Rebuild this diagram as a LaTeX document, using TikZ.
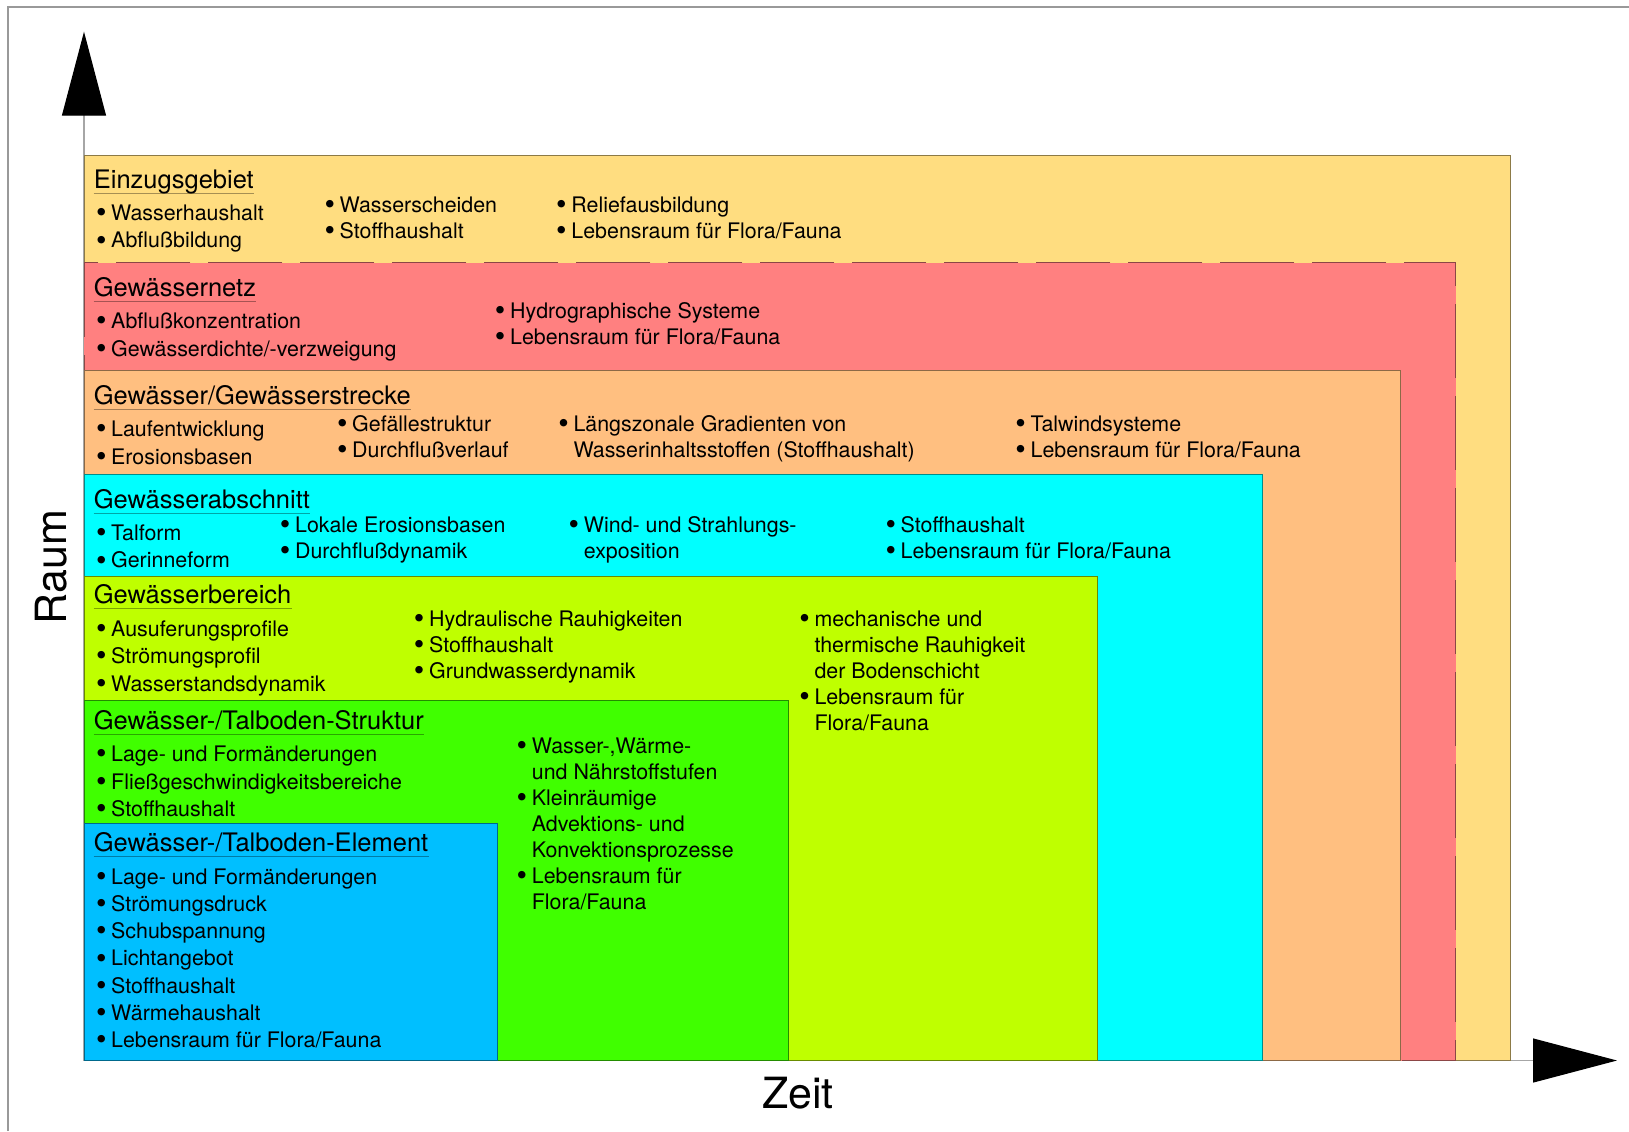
\documentclass[tikz,border=0pt]{standalone}
\usepackage{fontspec}
\setmainfont{TeX Gyre Heros}
\usetikzlibrary{arrows.meta}
\definecolor{gelbEinzug}{HTML}{FFDD80}
\definecolor{rotNetz}{HTML}{FF8080}
\definecolor{orangeStrecke}{HTML}{FFBF80}
\definecolor{cyanAbschnitt}{HTML}{00FFFF}
\definecolor{limeBereich}{HTML}{BFFF00}
\definecolor{gruenStruktur}{HTML}{40FF00}
\definecolor{blauElement}{HTML}{00BFFF}
\newcommand{\pkt}{\makebox[7.6pt][l]{\raisebox{-1.1pt}{\fontsize{15}{13}\selectfont\textbullet}}}
\newcommand{\einr}{\hspace*{7.6pt}}

\begin{document}
\begin{tikzpicture}[x=0.5pt,y=-0.5pt,
    zone/.style={draw=#1!55!black,fill=#1,line width=0.5pt},
    titel/.style={anchor=base west,inner sep=0pt,font=\fontsize{12.75}{15}\selectfont},
    ulinie/.style={draw=black,opacity=0.35,line width=0.5pt},
    spalte/.style={anchor=north west,inner sep=0pt,align=left,font=\fontsize{10.7}{13}\selectfont},
    spalteA/.style={spalte,font=\fontsize{10.7}{13.75}\selectfont},
    achse/.style={draw=black!35,line width=0.6pt,-{Triangle[length=42pt,width=22pt,color=black]}},
    achsname/.style={inner sep=0pt,font=\fontsize{21.5}{26}\selectfont},
    rahmen/.style={draw=black!40,line width=1pt}]
    \useasboundingbox (0,0) rectangle (1629,1131);
    \draw[rahmen] (7.5,1131) -- (7.5,7) -- (1629,7);

    \coordinate (ursprung) at (84,1060.5);
    \coordinate (raumspitze) at (84,31.7);
    \coordinate (zeitspitze) at (1617,1060.5);
    \draw[achse] (ursprung) -- (raumspitze);
    \draw[achse] (ursprung) -- (zeitspitze);

    \path[zone=gelbEinzug] (84,155.8) rectangle (1510.6,1060.5);
    \path[zone=rotNetz,dash pattern=on 37pt off 9pt] (84,262.8) rectangle (1455.5,1060.5);
    \path[zone=orangeStrecke] (84,370.9) rectangle (1400.4,1060.5);
    \path[zone=cyanAbschnitt] (84,474.8) rectangle (1262.3,1060.5);
    \path[zone=limeBereich] (84,576.6) rectangle (1097.1,1060.5);
    \path[zone=gruenStruktur] (84,700.2) rectangle (788.5,1060.5);
    \path[zone=blauElement] (84,823.8) rectangle (497.6,1060.5);

    \node[titel] (tEinzug) at (93.5,188.7) {Einzugsgebiet};
    \draw[ulinie] ([yshift=-2.5pt]tEinzug.base west) -- ([yshift=-2.5pt]tEinzug.base east);
    \node[spalteA] (einzugA) at (95.6,204.4) {\pkt Wasserhaushalt\\\pkt Abflußbildung};
    \node[spalte] (einzugB) at (324.1,196.1) {\pkt Wasserscheiden\\\pkt Stoffhaushalt};
    \node[spalte] (einzugC) at (555.8,196.1) {\pkt Reliefausbildung\\\pkt Lebensraum für Flora/Fauna};

    \node[titel] (tNetz) at (93.5,296.8) {Gewässernetz};
    \draw[ulinie] ([yshift=-2.5pt]tNetz.base west) -- ([yshift=-2.5pt]tNetz.base east);
    \node[spalteA] (netzA) at (95.6,312.5) {\pkt Abflußkonzentration\\\pkt Gewässerdichte/-verzweigung};
    \node[spalte] (netzB) at (494.5,302.1) {\pkt Hydrographische Systeme\\\pkt Lebensraum für Flora/Fauna};

    \node[titel] (tStrecke) at (93.5,404.8) {Gewässer/Gewässerstrecke};
    \draw[ulinie] ([yshift=-2.5pt]tStrecke.base west) -- ([yshift=-2.5pt]tStrecke.base east);
    \node[spalteA] (streckeA) at (95.6,420.5) {\pkt Laufentwicklung\\\pkt Erosionsbasen};
    \node[spalte] (streckeB) at (336.6,415.3) {\pkt Gefällestruktur\\\pkt Durchflußverlauf};
    \node[spalte] (streckeC) at (557.9,415.3) {\pkt Längszonale Gradienten von\\\einr Wasserinhaltsstoffen (Stoffhaushalt)};
    \node[spalte] (streckeD) at (1015,415.3) {\pkt Talwindsysteme\\\pkt Lebensraum für Flora/Fauna};

    \node[titel] (tAbschnitt) at (93.5,508.7) {Gewässerabschnitt};
    \draw[ulinie] ([yshift=-2.5pt]tAbschnitt.base west) -- ([yshift=-2.5pt]tAbschnitt.base east);
    \node[spalteA] (abschnittA) at (95.6,524.4) {\pkt Talform\\\pkt Gerinneform};
    \node[spalte] (abschnittB) at (279.5,516.1) {\pkt Lokale Erosionsbasen\\\pkt Durchflußdynamik};
    \node[spalte] (abschnittC) at (568.3,516.1) {\pkt Wind- und Strahlungs-\\\einr exposition};
    \node[spalte] (abschnittD) at (885.1,516.1) {\pkt Stoffhaushalt\\\pkt Lebensraum für Flora/Fauna};

    \node[titel] (tBereich) at (93.5,603.3) {Gewässerbereich};
    \draw[ulinie] ([yshift=-2.5pt]tBereich.base west) -- ([yshift=-2.5pt]tBereich.base east);
    \node[spalteA] (bereichA) at (95.6,620) {\pkt Ausuferungsprofile\\\pkt Strömungsprofil\\\pkt Wasserstandsdynamik};
    \node[spalte] (bereichB) at (413.5,610.6) {\pkt Hydraulische Rauhigkeiten\\\pkt Stoffhaushalt\\\pkt Grundwasserdynamik};
    \node[spalte] (bereichC) at (798.9,610.6) {\pkt mechanische und\\\einr thermische Rauhigkeit\\\einr der Bodenschicht\\\pkt Lebensraum für\\\einr Flora/Fauna};

    \node[titel] (tStruktur) at (93.5,729) {Gewässer-/Talboden-Struktur};
    \draw[ulinie] ([yshift=-2.5pt]tStruktur.base west) -- ([yshift=-2.5pt]tStruktur.base east);
    \node[spalteA] (strukturA) at (95.6,745.7) {\pkt Lage- und Formänderungen\\\pkt Fließgeschwindigkeitsbereiche\\\pkt Stoffhaushalt};
    \node[spalte] (strukturB) at (516.3,737.4) {\pkt Wasser-,Wärme-\\\einr und Nährstoffstufen\\\pkt Kleinräumige\\\einr Advektions- und\\\einr Konvektionsprozesse\\\pkt Lebensraum für\\\einr Flora/Fauna};

    \node[titel] (tElement) at (93.5,851.5) {Gewässer-/Talboden-Element};
    \draw[ulinie] ([yshift=-2.5pt]tElement.base west) -- ([yshift=-2.5pt]tElement.base east);
    \node[spalteA,font=\fontsize{10.7}{13.6}\selectfont] (elementA) at (95.6,868.3) {\pkt Lage- und Formänderungen\\\pkt Strömungsdruck\\\pkt Schubspannung\\\pkt Lichtangebot\\\pkt Stoffhaushalt\\\pkt Wärmehaushalt\\\pkt Lebensraum für Flora/Fauna};

    \node[achsname,rotate=90] (raum) at (51.5,567) {Raum};
    \node[achsname] (zeit) at (798,1093) {Zeit};
\end{tikzpicture}
\end{document}
